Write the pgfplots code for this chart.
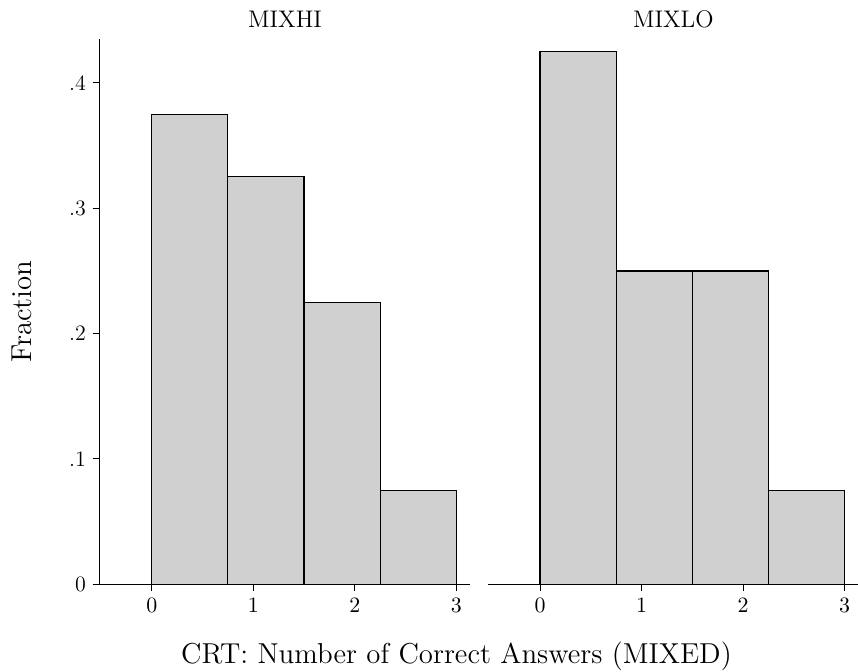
\documentclass[border=0pt]{standalone}
\usepackage{pgfplots}
\pgfplotsset{compat=1.18}
\definecolor{barfill}{HTML}{D0D0D0}
\pgfplotsset{
  crtpanel/.style={
    scale only axis,
    width=185pt, height=272.65pt,
    xmin=-0.51, xmax=3.135,
    ymin=0, ymax=0.435,
    axis x line*=bottom,
    xtick={0,1,2,3},
    tick align=outside,
    major tick length=3.5pt,
    tick style={black, line width=0.5pt},
    axis line style={black, line width=0.5pt},
    tick label style={font=\fontsize{11}{13}\selectfont},
    every axis title shift=0pt,
    title style={at={(axis description cs:0.5,1.0202)}, anchor=base, font=\fontsize{12}{14}\selectfont},
  },
  crtbar/.style={ybar interval, fill=barfill, draw=black, line width=0.6pt},
}
\begin{document}
\begin{tikzpicture}
\useasboundingbox (-50pt,-43.35pt) rectangle (379pt,292.15pt);
\begin{axis}[
  crtpanel,
  at={(0pt,0pt)}, anchor=south west,
  axis y line*=left,
  ytick={0,0.1,0.2,0.3,0.4},
  yticklabels={0,.1,.2,.3,.4},
  title={MIXHI},
  ylabel={Fraction},
  ylabel style={at={(axis description cs:-0.1838,0.5)}, anchor=base, font=\fontsize{14.4}{17}\selectfont},
  xlabel={CRT: Number of Correct Answers (MIXED)},
  xlabel style={at={(axis description cs:0.9635,0)}, anchor=base, yshift=-39.5pt, font=\fontsize{14.4}{17}\selectfont},
]
\addplot[crtbar] coordinates {
(0,0.375)
(0.75,0.325)
(1.5,0.225)
(2.25,0.075)
(3,0.075)
};
\end{axis}
\begin{axis}[
  crtpanel,
  at={(194.15pt,0pt)}, anchor=south west,
  axis y line=none,
  ytick=\empty,
  title={MIXLO},
]
\addplot[crtbar] coordinates {
(0,0.425)
(0.75,0.25)
(1.5,0.25)
(2.25,0.075)
(3,0.075)
};
\end{axis}
\end{tikzpicture}
\end{document}
